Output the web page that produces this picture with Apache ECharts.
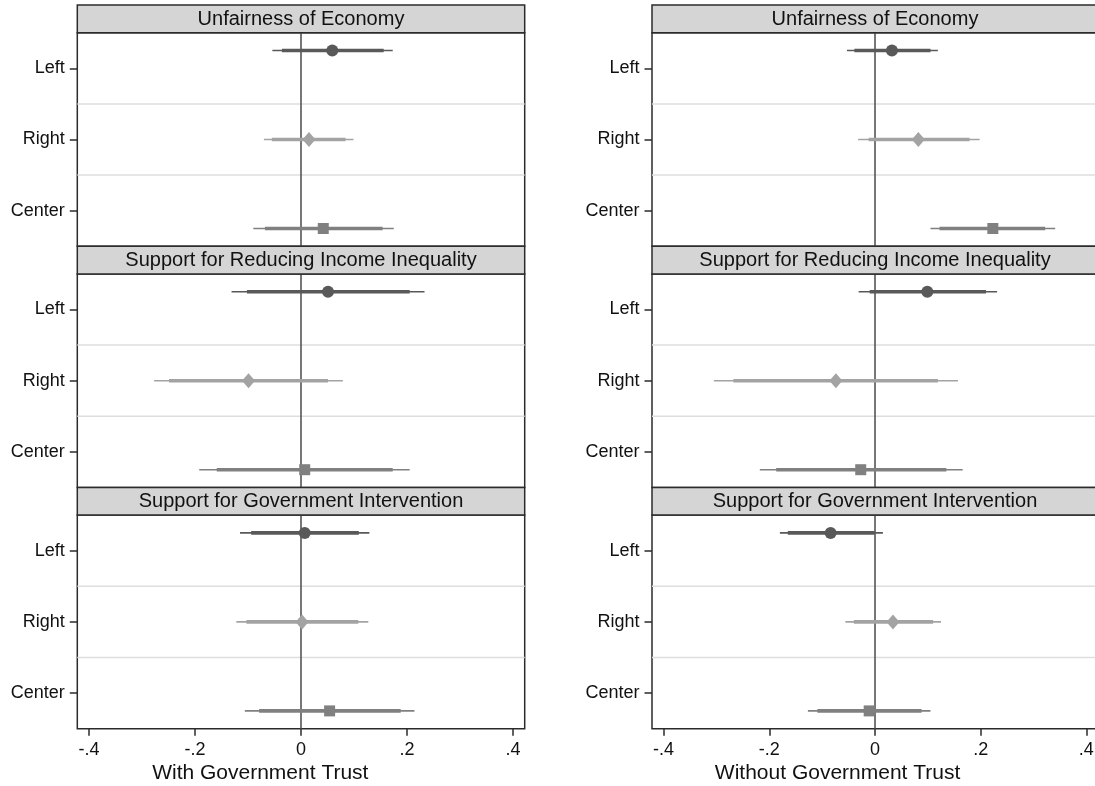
<!DOCTYPE html>
<html><head><meta charset="utf-8">
<script src="https://cdn.jsdelivr.net/npm/echarts@6/dist/echarts.min.js"></script>
<style>html,body{margin:0;padding:0;background:#fff}#c{width:1095px;height:786px}</style>
</head><body><div id="c"></div>
<script>
// ---------- data ----------
const CATEGORIES = ['Left', 'Right', 'Center'];
const OUTCOMES = ['Unfairness of Economy', 'Support for Reducing Income Inequality', 'Support for Government Intervention'];
const MODELS = ['With Government Trust', 'Without Government Trust'];
const X_TICKS = [-0.4, -0.2, 0, 0.2, 0.4];
const X_TICK_LABELS = ['-.4', '-.2', '0', '.2', '.4'];
// rows = outcomes, columns = categories (Left, Right, Center)
const WITH_EST  = [[0.059, 0.015, 0.042], [0.051, -0.099, 0.007], [0.007, 0.002, 0.054]];
const WITH_LO95 = [[-0.054, -0.070, -0.090], [-0.131, -0.277, -0.192], [-0.115, -0.122, -0.106]];
const WITH_HI95 = [[0.173, 0.099, 0.175], [0.233, 0.079, 0.205], [0.129, 0.127, 0.214]];
const WITH_LO90 = [[-0.036, -0.055, -0.068], [-0.102, -0.249, -0.159], [-0.094, -0.103, -0.079]];
const WITH_HI90 = [[0.156, 0.084, 0.154], [0.205, 0.051, 0.173], [0.109, 0.108, 0.188]];
const WITHOUT_EST  = [[0.032, 0.082, 0.223], [0.099, -0.074, -0.027], [-0.084, 0.034, -0.011]];
const WITHOUT_LO95 = [[-0.053, -0.032, 0.105], [-0.031, -0.305, -0.218], [-0.180, -0.056, -0.127]];
const WITHOUT_HI95 = [[0.119, 0.198, 0.341], [0.231, 0.157, 0.166], [0.015, 0.125, 0.105]];
const WITHOUT_LO90 = [[-0.039, -0.012, 0.122], [-0.010, -0.268, -0.187], [-0.165, -0.040, -0.109]];
const WITHOUT_HI90 = [[0.105, 0.179, 0.322], [0.210, 0.119, 0.135], [-0.001, 0.110, 0.088]];

// ---------- styles / layout ----------
const COLORS = ['#595959', '#a3a3a3', '#808080'];
const SYMBOLS = ['circle', 'diamond', 'rect'];
const SYMBOL_SIZES = [12, [13, 15], 11];
const FONT = '"Liberation Sans", Arial, Helvetica, sans-serif';
const COL_LEFT = [77.3, 652];
const COL_WIDTH = [447.4, 446];
const PLOT_TOP0 = 32.7, HEADER_H = 27.6, PLOT_H = 213.6, PERIOD = 241.2;
const TITLE_X = [260.3, 837.6];
const X_HALF = 0.422;
const FRAME = '#2b2b2b';

const MODEL_DATA = [
  {est: WITH_EST, lo95: WITH_LO95, hi95: WITH_HI95, lo90: WITH_LO90, hi90: WITH_HI90},
  {est: WITHOUT_EST, lo95: WITHOUT_LO95, hi95: WITHOUT_HI95, lo90: WITHOUT_LO90, hi90: WITHOUT_HI90}
];
// vertical position of each category's estimate (spread inside its band)
const yPos = i => (i + 1) + (i - 1) * 0.25;
const Y_TICKS = CATEGORIES.map((_, i) => i + 1);
const BOUNDARIES = CATEGORIES.slice(1).map((_, i) => [0, i + 1.5]);

function renderHLine(params, api) {
  const cs = params.coordSys;
  const y = api.coord([0, api.value(1)])[1];
  return {type: 'line', shape: {x1: cs.x, y1: y, x2: cs.x + cs.width, y2: y},
          style: {stroke: '#dedede', lineWidth: 1.5}};
}
function renderZero(params, api) {
  const cs = params.coordSys;
  const x = api.coord([api.value(0), 2])[0];
  return {type: 'line', shape: {x1: x, y1: cs.y, x2: x, y2: cs.y + cs.height},
          style: {stroke: '#555555', lineWidth: 1.6}};
}
function renderCI(params, api) {
  const yv = api.value(5);
  const col = COLORS[api.value(6)];
  const p = v => api.coord([v, yv]);
  const a = p(api.value(1)), b = p(api.value(2)), c = p(api.value(3)), d = p(api.value(4));
  return {type: 'group', children: [
    {type: 'line', shape: {x1: a[0], y1: a[1], x2: b[0], y2: b[1]}, style: {stroke: col, lineWidth: 1.6}},
    {type: 'line', shape: {x1: c[0], y1: c[1], x2: d[0], y2: d[1]}, style: {stroke: col, lineWidth: 3.6}}
  ]};
}

const grid = [], xAxis = [], yAxis = [], series = [], graphic = [];
for (let c = 0; c < MODELS.length; c++) {
  for (let r = 0; r < OUTCOMES.length; r++) {
    const gi = grid.length;
    const top = PLOT_TOP0 + r * PERIOD;
    const bottomPanel = r === OUTCOMES.length - 1;
    grid.push({left: COL_LEFT[c], width: COL_WIDTH[c], top: top, height: PLOT_H,
      show: true, borderColor: FRAME, borderWidth: 1.5, backgroundColor: '#fff',
      containLabel: false, outerBoundsMode: 'none'});
    xAxis.push({type: 'value', gridIndex: gi, min: -X_HALF, max: X_HALF, position: 'bottom',
      axisLine: {show: false, onZero: false}, splitLine: {show: false},
      axisTick: {show: bottomPanel, customValues: X_TICKS, length: 7, lineStyle: {color: FRAME, width: 1.5}},
      axisLabel: {show: bottomPanel, customValues: X_TICKS, margin: 12, fontSize: 18, fontFamily: FONT, color: '#111',
        formatter: v => X_TICK_LABELS[X_TICKS.findIndex(t => Math.abs(t - v) < 1e-9)] ?? ''}});
    yAxis.push({type: 'value', gridIndex: gi, min: 0.5, max: 3.5, inverse: true, position: 'left',
      axisLine: {show: false, onZero: false}, splitLine: {show: false},
      axisTick: {show: true, customValues: Y_TICKS, length: 7.5, lineStyle: {color: FRAME, width: 1.5}},
      axisLabel: {show: true, customValues: Y_TICKS, margin: 12.5, fontSize: 18, fontFamily: FONT, color: '#111',
        formatter: v => CATEGORIES[Math.round(v) - 1] ?? ''}});

    const md = MODEL_DATA[c];
    series.push({type: 'custom', xAxisIndex: gi, yAxisIndex: gi, z: 1, silent: true, animation: false,
      renderItem: renderHLine, data: BOUNDARIES});
    series.push({type: 'custom', xAxisIndex: gi, yAxisIndex: gi, z: 2, silent: true, animation: false,
      renderItem: renderZero, data: [[0, 2]]});
    series.push({type: 'custom', xAxisIndex: gi, yAxisIndex: gi, z: 3, silent: true, animation: false,
      renderItem: renderCI, encode: {x: 0, y: 5},
      data: CATEGORIES.map((_, i) => [md.est[r][i], md.lo95[r][i], md.hi95[r][i], md.lo90[r][i], md.hi90[r][i], yPos(i), i])});
    series.push({type: 'scatter', xAxisIndex: gi, yAxisIndex: gi, z: 4, silent: true, animation: false,
      data: CATEGORIES.map((_, i) => ({value: [md.est[r][i], yPos(i)], symbol: SYMBOLS[i],
        symbolSize: SYMBOL_SIZES[i], itemStyle: {color: COLORS[i], opacity: 1}}))});

    graphic.push({type: 'rect', z: 10, silent: true,
      shape: {x: COL_LEFT[c], y: top - HEADER_H, width: COL_WIDTH[c], height: HEADER_H},
      style: {fill: '#d5d5d5', stroke: FRAME, lineWidth: 1.5}});
    graphic.push({type: 'text', z: 11, silent: true,
      x: COL_LEFT[c] + COL_WIDTH[c] / 2, y: top - HEADER_H / 2 + 0.5,
      style: {text: OUTCOMES[r], font: '20px ' + FONT, fill: '#111',
        align: 'center', verticalAlign: 'middle', textAlign: 'center', textVerticalAlign: 'middle'}});
  }
  graphic.push({type: 'text', z: 11, silent: true, x: TITLE_X[c], y: 773,
    style: {text: MODELS[c], font: '21px ' + FONT, fill: '#111',
      align: 'center', verticalAlign: 'middle', textAlign: 'center', textVerticalAlign: 'middle'}});
}

const chart = echarts.init(document.getElementById('c'), null, {renderer: 'canvas'});
chart.setOption({backgroundColor: '#fff', animation: false, grid, xAxis, yAxis, series, graphic});
</script>
</body></html>
